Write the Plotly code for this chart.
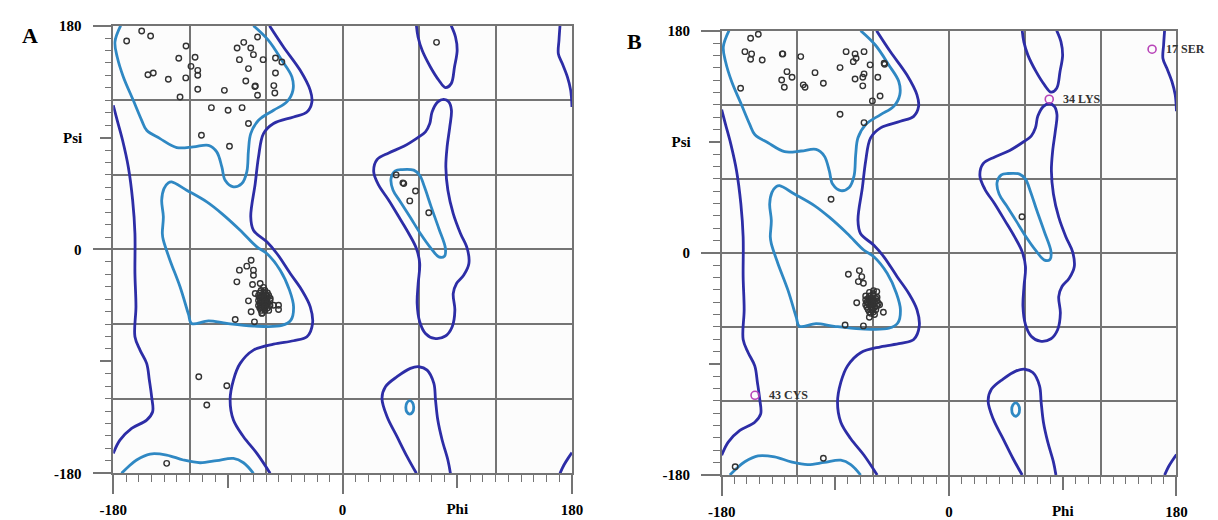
import plotly.graph_objects as go

# ---------------- contour data (phi, psi) shared by both panels ----------------
beta_core_top_phi = [-174.2, -178.7, -176.9, -172.1, -164.3, -157.7, -153.8, -143.3, -130.2, -117.1, -105.3, -98.8,
                     -94.8, -92.2, -85.7, -79.1, -75.2, -73.9, -72.1, -66.0, -54.2, -43.8, -39.0, -39.8, -47.7, -58.2, -70.0]
beta_core_top_psi = [180, 166.9, 154.8, 138.8, 120.0, 103.9, 95.9, 89.2, 82.0, 82.5, 83.8, 78.5,
                     66.4, 55.7, 50.4, 53.0, 62.4, 79.8, 93.2, 103.9, 112.0, 118.7, 128.0, 138.8, 152.2, 168.2, 180]
beta_core_bot_phi = [-173.5, -168.2, -161.7, -151.2, -138.1, -125.0, -111.9, -98.8, -85.7, -77.8, -70.0]
beta_core_bot_psi = [-180, -174.7, -169.3, -164.5, -165.3, -169.3, -171.5, -169.8, -168.0, -171.5, -180]

alpha_core_phi = [-134.2, -122.4, -106.6, -94.8, -80.4, -67.3, -59.5, -49.0, -41.7, -38.5, -40.6, -47.7, -70.0,
                  -90.9, -105.3, -118.5, -121.0, -127.6, -135.5, -140.7, -141.5, -140.7, -142.0, -140.2, -136.8, -134.2]
alpha_core_psi = [54.4, 47.7, 38.3, 28.9, 15.5, 2.1, -3.2, -16.6, -32.7, -46.1, -56.8, -61.1, -61.6,
                  -59.5, -57.4, -59.5, -52.0, -30.0, -8.6, 7.5, 12.9, 26.3, 39.6, 49.0, 53.6, 54.4]

alphaL_core_phi = [46.7, 55.8, 60.5, 64.2, 69.5, 75.5, 80.7, 79.9, 75.5, 68.9, 61.0, 53.2, 45.4, 39.6, 38.0, 41.4, 46.7]
alphaL_core_psi = [64.3, 63.8, 59.7, 50.4, 34.3, 16.9, 0.8, -5.4, -5.9, 1.6, 12.9, 25.7, 38.3, 47.7, 57.1, 63.2, 64.3]

gamma_core_phi = [52.7, 54.9, 55.8, 54.9, 52.7, 50.5, 49.6, 50.5, 52.7]
gamma_core_psi = [-121.6, -123.2, -127.0, -130.8, -132.4, -130.8, -127.0, -123.2, -121.6]

allowed_right_phi = [-57.4, -46.4, -33.3, -25.4, -24.1, -28.0, -38.5, -54.2, -62.1, -66.0, -68.6, -72.1, -70.0, -59.5,
                     -51.6, -41.1, -32.0, -25.4, -23.6, -28.0, -38.5, -54.2, -70.0, -80.4, -85.7, -88.3, -85.7, -77.8,
                     -67.3, -56.9]
allowed_right_psi = [180, 162.9, 144.1, 128.0, 118.7, 110.6, 106.6, 101.3, 93.2, 74.5, 53.0, 26.3, 15.5, 6.2,
                     -3.2, -19.3, -32.7, -46.1, -59.5, -70.2, -73.4, -76.1, -80.9, -91.6, -105.0, -121.1, -137.2,
                     -150.6, -164.0, -180]
allowed_left_phi = [-180.0, -176.9, -172.7, -168.2, -164.8, -163.0, -163.0, -162.2, -163.0, -159.0, -153.8, -151.7,
                    -149.9, -149.1, -153.8, -165.6, -174.8, -180.0]
allowed_left_psi = [116.0, 103.9, 87.9, 66.4, 39.6, 12.9, -19.3, -46.1, -70.2, -80.9, -91.6, -105.0,
                    -118.4, -130.5, -137.2, -143.9, -153.3, -164.0]
allowed_edge_top_phi = [170.6, 169.8, 169.3, 172.4, 176.4, 179.0, 180.0]
allowed_edge_top_psi = [180, 168.2, 157.5, 149.5, 138.8, 128.0, 114.7]
allowed_edge_bot_phi = [170.6, 173.7, 176.9, 180.0]
allowed_edge_bot_psi = [-180, -173.3, -168.0, -163.4]
allowed_mid_top_phi = [57.9, 59.2, 62.4, 68.9, 75.5, 80.7, 85.2, 87.8, 89.9, 88.6, 85.2]
allowed_mid_top_psi = [180, 170.9, 160.2, 146.8, 136.1, 130.2, 133.4, 146.8, 160.2, 170.9, 180]
allowed_mid_bot_phi = [57.9, 50.6, 42.7, 34.9, 30.9, 33.6, 42.7, 53.2, 59.8, 66.3, 71.6, 72.9, 74.7, 78.1, 82.6, 84.6]
allowed_mid_bot_psi = [-180, -166.6, -150.5, -134.5, -119.7, -110.4, -102.3, -95.6, -94.3, -97.0, -107.7, -121.1,
                       -137.2, -153.2, -169.3, -180]
allowed_alphaL_phi = [79.4, 74.7, 70.2, 68.4, 65.0, 59.0, 48.0, 36.2, 27.0, 24.4, 28.3, 36.2, 44.1, 51.9, 57.9, 60.5,
                      59.3, 58.5, 60.5, 65.0, 72.1, 80.7, 86.0, 88.1, 86.8, 89.4, 95.1, 99.1, 97.8, 92.5, 86.8, 82.6,
                      81.0, 82.0, 84.1, 85.4, 83.3, 79.4]
allowed_alphaL_psi = [120.8, 118.7, 110.6, 101.3, 94.6, 90.0, 83.0, 77.7, 72.3, 62.4, 51.7, 39.6, 26.3, 12.9, 0.8,
                      -11.3, -27.3, -43.4, -58.1, -67.5, -71.5, -69.6, -62.1, -48.8, -35.4, -27.3, -20.6, -11.3, 0.8,
                      12.9, 28.9, 47.7, 66.4, 82.5, 98.6, 112.0, 118.7, 120.8]

# ---------------- residues, panel A ----------------
a_phi = [-169.5, -157.7, -150.7, -122.9, -128.6, -115.8, -119.0, -113.7, -113.7, -152.8, -148.6, -136.8, -123.1,
         -113.7, -127.6, -92.8, -103.0, -89.9, -78.9, -73.9, -110.8, -88.8, -77.6, -82.8, -72.1, -66.8, -70.0, -81.0,
         -62.4, -52.7, -47.7, -73.9, -52.7, -76.0, -68.9, -68.5, -54.0, -53.2, -66.8,
         -71.8, -75.2, -81.0, -70.0, -83.0, -70.0, -70.7, -64.7, -62.1, -73.9, -68.6, -56.8, -54.2, -50.3, -50.3,
         -71.8, -63.4, -84.3, -69.2,
         -64, -61, -65, -62, -59, -66, -63, -60, -58, -65, -62, -59, -66, -63, -60, -57, -65, -62, -59,
         -66, -63, -60, -57, -65, -62, -59, -64, -61, -58, -63, -64, -61, -64, -61, -64, -61,
         -112.9, -90.9, -106.6, -138.1, 73.7, 42.0, 48.0, 47.3, 57.2, 52.7, 67.6]
a_psi = [167.7, 175.7, 171.7, 163.7, 153.8, 154.6, 147.3, 144.1, 140.1, 140.6, 142.0, 136.9, 138.0,
         128.9, 122.7, 128.0, 114.1, 112.0, 114.1, 101.3, 91.9, 83.0, 166.6, 162.1, 162.1, 170.9, 156.7, 152.7,
         152.7, 154.0, 150.8, 145.5, 142.0, 135.5, 131.0, 131.5, 131.8, 125.9, 124.0,
         -8.6, -13.4, -16.6, -16.6, -26.0, -20.7, -28.1, -27.3, -30.5, -41.3, -35.4, -39.4, -44.8, -44.8, -48.2,
         -50.1, -51.4, -56.3, -58.2,
         -33, -33, -35, -35, -35, -37, -37, -37, -37, -39, -39, -39, -41, -41, -41, -41, -43, -43, -43,
         -45, -45, -45, -45, -47, -47, -47, -49, -49, -49, -51, -38, -38, -42, -42, -46, -46,
         -102.4, -109.6, -125.1, -172.0, 166.6, 60.0, 53.0, 53.6, 47.1, 39.1, 29.5]

# ---------------- residues, panel B ----------------
b_phi = [-157.1, -151.0, -161.6, -156.3, -157.1, -147.9, -132.0, -131.6, -117.4, -128.3, -124.3, -132.5, -130.4,
         -165.0, -115.4, -114.0, -106.1, -99.5, -86.3, -81.5, -74.4, -67.3, -75.8, -73.6, -62.5, -51.4, -51.0, -74.4,
         -68.3, -67.3, -56.4, -68.3, -60.7, -54.6, -86.3, -67.3, -93.4,
         -79.7, -71.0, -69.1, -71.8, -67.8, -73.1, -82.3, -67.8, -63.1, -52.0, -57.2, -59.8,
         -63, -60, -66, -63, -60, -57, -66, -63, -60, -57, -65, -62, -59, -56, -66, -63, -60, -57,
         -65, -62, -59, -64, -61, -58, -63, -60, -64, -61, -58, -64, -61, -55, -62, -59,
         -99.5, -169.3, 57.7]
b_psi = [173.9, 177.1, 163.0, 161.2, 156.9, 156.3, 161.2, 161.2, 159.0, 146.8, 142.3, 140.1, 134.2,
         133.4, 136.1, 134.2, 146.0, 137.4, 150.1, 163.0, 161.2, 163.0, 154.9, 157.7, 152.3, 153.6, 152.8, 140.9,
         142.3, 145.0, 142.3, 135.3, 123.1, 127.1, 112.3, 105.5, 43.4,
         -17.3, -14.4, -19.3, -23.3, -24.6, -40.4, -58.4, -59.2, -52.2, -48.1, -31.4, -30.6,
         -32, -33, -35, -35, -35, -36, -38, -38, -38, -39, -40, -40, -40, -41, -42, -42, -42, -43,
         -44, -44, -44, -46, -46, -46, -48, -48, -37, -37, -37, -41, -41, -42, -49, -50,
         -166.4, -173.3, 29.3]
b_out_phi = [160.7, 79.3, -153.6]
b_out_psi = [165.0, 124.5, -115.4]
b_out_label = ["17 SER", "34 LYS", "43 CYS"]

tick_vals_major = [-180, 0, 180]
tick_text_major = ["-180", "0", "180"]

# ---------------- styling ----------------
DARK = "#2d2da6"
LIGHT = "#2f88c3"
GRID = "#747474"
FONT = "Liberation Serif"
tickfont = dict(family=FONT, size=15, color="black", weight="bold")

contours = [
    (beta_core_top_phi, beta_core_top_psi, LIGHT),
    (beta_core_bot_phi, beta_core_bot_psi, LIGHT),
    (alpha_core_phi, alpha_core_psi, LIGHT),
    (alphaL_core_phi, alphaL_core_psi, LIGHT),
    (gamma_core_phi, gamma_core_psi, LIGHT),
    (allowed_right_phi, allowed_right_psi, DARK),
    (allowed_left_phi, allowed_left_psi, DARK),
    (allowed_edge_top_phi, allowed_edge_top_psi, DARK),
    (allowed_edge_bot_phi, allowed_edge_bot_psi, DARK),
    (allowed_mid_top_phi, allowed_mid_top_psi, DARK),
    (allowed_mid_bot_phi, allowed_mid_bot_psi, DARK),
    (allowed_alphaL_phi, allowed_alphaL_psi, DARK),
]

fig = go.Figure()

panels = [
    dict(x="x", y="y", xo="x2", yo="y2", phi=a_phi, psi=a_psi),
    dict(x="x3", y="y3", xo="x4", yo="y4", phi=b_phi, psi=b_psi),
]

for p in panels:
    for cphi, cpsi, col in contours:
        fig.add_trace(go.Scatter(x=cphi, y=cpsi, mode="lines", line=dict(color=col, width=2.8, shape="spline"),
                                 xaxis=p["x"], yaxis=p["y"], showlegend=False, hoverinfo="skip"))
    fig.add_trace(go.Scatter(x=p["phi"], y=p["psi"], mode="markers",
                             marker=dict(symbol="circle-open", size=5.5, color="#333333", line=dict(width=1.4)),
                             xaxis=p["x"], yaxis=p["y"], showlegend=False))
    # empty traces to register overlay axes
    fig.add_trace(go.Scatter(x=[], y=[], xaxis=p["xo"], yaxis=p["y"], showlegend=False, hoverinfo="skip"))
    fig.add_trace(go.Scatter(x=[], y=[], xaxis=p["x"], yaxis=p["yo"], showlegend=False, hoverinfo="skip"))

# outliers in panel B
fig.add_trace(go.Scatter(x=b_out_phi, y=b_out_psi, mode="markers",
                         marker=dict(symbol="circle-open", size=8, color="#b844b8", line=dict(width=1.6)),
                         xaxis="x3", yaxis="y3", showlegend=False))
for ph, ps, lab in zip(b_out_phi, b_out_psi, b_out_label):
    fig.add_annotation(x=ph, y=ps, xref="x3", yref="y3", text=lab, showarrow=False, xanchor="left",
                       xshift=12, font=dict(family=FONT, size=12, color="#333333", weight="bold"))


def main_axis(domain, anchor, standoff):
    return dict(domain=domain, anchor=anchor, range=[-180, 180], tickmode="array", automargin=False,
                tickvals=tick_vals_major, ticktext=tick_text_major, ticks="outside", ticklen=19,
                tickwidth=1.5, tickcolor=GRID,
                minor=dict(dtick=10, tick0=0, ticks="outside", ticklen=7, tickwidth=1.2, tickcolor=GRID,
                           showgrid=False),
                showgrid=False, zeroline=False, showline=True, mirror=True, linecolor=GRID, linewidth=1.5,
                tickfont=tickfont, ticklabelstandoff=standoff, fixedrange=True)


def overlay_axis(over, anchor, label, ticklen, standoff):
    return dict(overlaying=over, anchor=anchor, range=[-180, 180], tickmode="array", automargin=False,
                tickvals=[-90, 90], ticktext=["", label], ticks="outside", ticklen=ticklen,
                tickwidth=1.5, tickcolor=GRID, ticklabelstandoff=standoff + 19 - ticklen,
                minor=dict(dtick=60, tick0=0, ticks="", showgrid=True, gridcolor=GRID, gridwidth=1.5),
                showgrid=False, zeroline=False, showline=False, tickfont=tickfont, fixedrange=True)


XS = 3   # label standoff for x axes
YS = 8   # label standoff for y axes

fig.update_layout(
    width=1218, height=520,
    margin=dict(l=0, r=0, t=0, b=0),
    paper_bgcolor="white", plot_bgcolor="#fcfcfc",
    xaxis=main_axis([0.0930, 0.4696], "y", XS),
    yaxis=main_axis([0.0898, 0.9506], "x", YS),
    xaxis2=overlay_axis("x", "y", "Phi", 14, XS),
    yaxis2=overlay_axis("y", "x", "Psi", 12, YS),
    xaxis3=main_axis([0.5925, 0.9659], "y3", XS),
    yaxis3=main_axis([0.0865, 0.9410], "x3", YS),
    xaxis4=overlay_axis("x3", "y3", "Phi", 14, XS),
    yaxis4=overlay_axis("y3", "x3", "Psi", 12, YS),
)

fig.add_annotation(x=0.0164, y=0.96, xref="paper", yref="paper", text="A", showarrow=False,
                   font=dict(family=FONT, size=22, color="black", weight="bold"))
fig.add_annotation(x=0.5213, y=0.948, xref="paper", yref="paper", text="B", showarrow=False,
                   font=dict(family=FONT, size=22, color="black", weight="bold"))

fig.write_html("out.html", config={"displayModeBar": False},
               post_script="document.body.style.margin='0px';document.body.style.overflow='hidden';")
